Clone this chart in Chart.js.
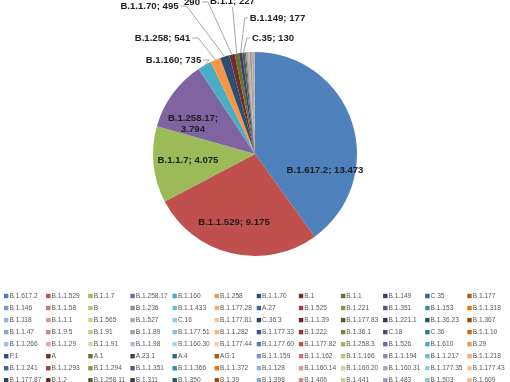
<!DOCTYPE html>
<html><head><meta charset="utf-8">
<script src="https://cdn.jsdelivr.net/npm/chart.js@4.4.1/dist/chart.umd.min.js"></script>
<style>html,body{margin:0;padding:0;background:#fff;overflow:hidden}#c{display:block}</style>
</head><body>
<canvas id="c" width="510" height="382"></canvas>
<script>
const categories = [
 'B.1.617.2','B.1.1.529','B.1.1.7','B.1.258.17','B.1.160','B.1.258','B.1.1.70','B.1','B.1.1','B.1.149','C.35','B.1.177',
 'B.1.146','B.1.1.58','B','B.1.236','B.1.1.433','B.1.177.28','A.27','B.1.525','B.1.221','B.1.351','B.1.153','B.1.1.318',
 'B.1.118','B.1.1.1','B.1.565','B.1.527','C.16','B.1.177.81','C.36.3','B.1.1.39','B.1.177.83','B.1.221.1','B.1.36.23','B.1.367',
 'B.1.1.47','B.1.9.5','B.1.91','B.1.1.89','B.1.177.51','B.1.1.282','B.1.177.33','B.1.222','B.1.36.1','C.18','C.36','B.1.1.10',
 'B.1.1.266','B.1.1.29','B.1.1.91','B.1.1.98','B.1.160.30','B.1.177.44','B.1.177.60','B.1.177.82','B.1.258.3','B.1.526','B.1.610','B.29',
 'P.1','A','A.1','A.23.1','A.4','AG.1','B.1.1.159','B.1.1.162','B.1.1.166','B.1.1.194','B.1.1.217','B.1.1.218',
 'B.1.1.241','B.1.1.293','B.1.1.294','B.1.1.351','B.1.1.366','B.1.1.372','B.1.128','B.1.160.14','B.1.160.20','B.1.160.31','B.1.177.35','B.1.177.43',
 'B.1.177.87','B.1.2','B.1.258.11','B.1.311','B.1.350','B.1.39','B.1.398','B.1.406','B.1.441','B.1.483','B.1.503','B.1.609'
];
const counts = [
 13473, 9175, 4075, 3794, 735, 541, 495, 290, 227, 177, 130, 70,
 55, 40, 32, 32, 24, 24, 19, 19, 15, 15, 12, 10,
 10, 8, 8, 7, 7, 6, 6, 5, 5, 5, 5, 5,
 4, 4, 4, 3, 3, 3, 3, 3, 3, 3, 3, 2,
 2, 2, 2, 2, 2, 2, 2, 2, 2, 2, 2, 2,
 2, 1, 1, 1, 1, 1, 1, 1, 1, 1, 1, 1,
 1, 1, 1, 1, 1, 1, 1, 1, 1, 1, 1, 1,
 1, 1, 1, 1, 1, 1, 1, 1, 1, 1, 1, 1
];
const labelledCount = 11;

// Excel 2010 style palette with shade variations
const baseColors = ['#4F81BD','#C0504D','#9BBB59','#8064A2','#4BACC6','#F79646'];
const variations = [[1,0],[0.6,0],[0.8,0.2],[0.8,0],[0.6,0.4],[0.5,0],[0.7,0.3],[0.7,0],[0.5,0.5]];
function hexToHsl(hex){
  const r=parseInt(hex.slice(1,3),16)/255,g=parseInt(hex.slice(3,5),16)/255,b=parseInt(hex.slice(5,7),16)/255;
  const mx=Math.max(r,g,b),mn=Math.min(r,g,b);let h=0,s=0;const l=(mx+mn)/2;
  if(mx!==mn){const d=mx-mn;s=l>0.5?d/(2-mx-mn):d/(mx+mn);
    if(mx===r)h=((g-b)/d+(g<b?6:0));else if(mx===g)h=(b-r)/d+2;else h=(r-g)/d+4;h/=6;}
  return [h,s,l];
}
function hslToHex(h,s,l){
  function f(p,q,t){if(t<0)t+=1;if(t>1)t-=1;if(t<1/6)return p+(q-p)*6*t;if(t<1/2)return q;if(t<2/3)return p+(q-p)*(2/3-t)*6;return p;}
  let r,g,b;if(s===0){r=g=b=l;}else{const q=l<0.5?l*(1+s):l+s-l*s;const p=2*l-q;r=f(p,q,h+1/3);g=f(p,q,h);b=f(p,q,h-1/3);}
  const t=v=>Math.round(v*255).toString(16).padStart(2,'0');return '#'+t(r)+t(g)+t(b);
}
function colorFor(i){
  const base=baseColors[i%6];const v=variations[Math.floor(i/6)%variations.length];
  const [h,s,l]=hexToHsl(base);return hslToHex(h,s,Math.min(1,l*v[0]+v[1]));
}
const colors = categories.map((_,i)=>colorFor(i));

function fmt(n){
  if(n>=1000){const t=Math.floor(n/1000),r=n%1000;return t+'.'+String(r).padStart(3,'0');}
  return String(n);
}

// label placement (style): offsets from pie centre, leader side
const labelLayout = [
 {dx:70, dy:16},
 {dx:-21, dy:68},
 {dx:-67, dy:6},
 {dx:-62, dy:-30, wrap:true},
 {dx:-81.5, dy:-94, lead:'r'},
 {dx:-92.5, dy:-116, lead:'r'},
 {dx:-105.5, dy:-148, lead:'r'},
 {dx:-63, dy:-157.5, wrap:true, lead:'r'},
 {dx:-22.5, dy:-153, lead:'b'},
 {dx:22.5, dy:-136, lead:'l'},
 {dx:18, dy:-116, lead:'l'}
];

const labelPlugin = {
  id:'pieLabels',
  afterDatasetsDraw(chart){
    const ctx=chart.ctx;const meta=chart.getDatasetMeta(0);
    ctx.save();
    ctx.font='bold 9.6px "Liberation Sans", Arial, sans-serif';
    ctx.textAlign='center';ctx.textBaseline='middle';
    for(let i=0;i<labelledCount;i++){
      const arc=meta.data[i];const p=arc.getProps(['x','y','startAngle','endAngle','outerRadius'],true);
      const L=labelLayout[i];const cx=p.x+L.dx, cy=p.y+L.dy;
      const lines=L.wrap?[categories[i]+';',fmt(counts[i])]:[categories[i]+'; '+fmt(counts[i])];
      const lh=11;const w=Math.max(...lines.map(s=>ctx.measureText(s).width));
      if(L.lead){
        const mid=(p.startAngle+p.endAngle)/2;
        const ex=p.x+p.outerRadius*Math.cos(mid), ey=p.y+p.outerRadius*Math.sin(mid);
        let sx,sy;
        const lastW=ctx.measureText(lines[lines.length-1]).width;
        const lastY=cy+(lines.length-1)*lh/2;
        if(L.lead==='r'){sx=cx+lastW/2+2;sy=lastY;}
        else if(L.lead==='l'){sx=cx-w/2-2;sy=cy;}
        else {sx=cx;sy=cy+6;}
        ctx.strokeStyle='#a6a6a6';ctx.lineWidth=1;
        ctx.beginPath();ctx.moveTo(sx,sy);
        if(L.lead==='r'){ctx.lineTo(sx+6,sy);} else if(L.lead==='l'){ctx.lineTo(sx-3,sy);}
        ctx.lineTo(ex,ey);ctx.stroke();
      }
      ctx.fillStyle='#1e1e1e';
      lines.forEach((s,k)=>{ctx.fillText(s,cx,cy+(k-(lines.length-1)/2)*lh);});
    }
    ctx.restore();
  }
};

const legendPlugin = {
  id:'gridLegend',
  afterDraw(chart){
    const ctx=chart.ctx;ctx.save();
    ctx.font='6.6px "Liberation Sans", Arial, sans-serif';
    ctx.textBaseline='middle';ctx.textAlign='left';
    const cols=12, x0=4, dxCol=42.12, y0=296, dyRow=12.04, box=4.4;
    categories.forEach((c,i)=>{
      const col=i%cols,row=Math.floor(i/cols);
      const x=x0+col*dxCol,y=y0+row*dyRow;
      ctx.fillStyle=colors[i];ctx.fillRect(x,y-box/2,box,box);
      ctx.fillStyle='#595959';ctx.fillText(c,x+5.4,y+0.3);
    });
    ctx.restore();
  }
};

new Chart(document.getElementById('c'),{
  type:'pie',
  data:{labels:categories,datasets:[{data:counts,backgroundColor:colors,borderWidth:0,hoverOffset:0}]},
  options:{
    responsive:false,devicePixelRatio:1,animation:false,
    layout:{padding:{left:153,right:153,top:52,bottom:126}},
    plugins:{legend:{display:false},tooltip:{enabled:false}}
  },
  plugins:[labelPlugin,legendPlugin]
});
</script>
</body></html>
